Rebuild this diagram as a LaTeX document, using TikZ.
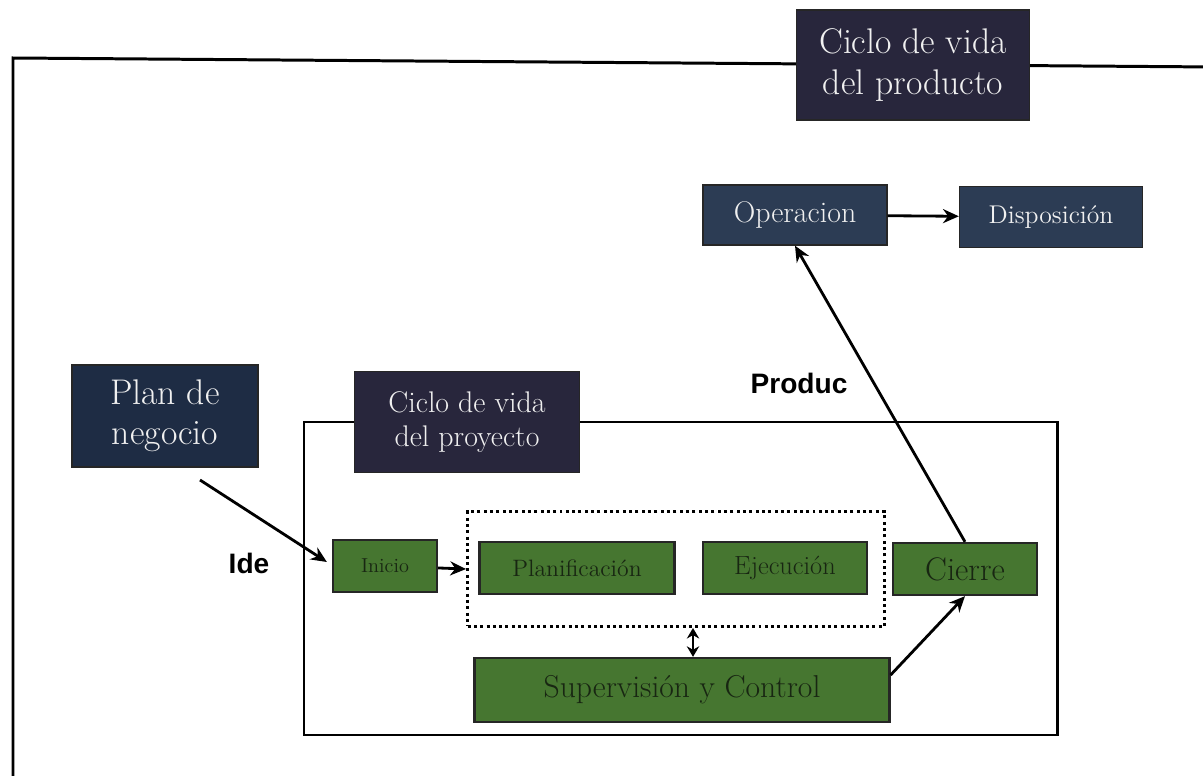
\documentclass[tikz,border=0pt]{standalone}
\usepackage{fontspec}
\newfontfamily\tagfont{Liberation Sans}
\usetikzlibrary{calc,positioning,arrows.meta}
\definecolor{titlenavy}{RGB}{40,38,60}
\definecolor{plannavy}{RGB}{30,44,68}
\definecolor{slate}{RGB}{44,60,84}
\definecolor{leaf}{RGB}{70,118,48}
\definecolor{paletext}{RGB}{240,240,240}
\definecolor{leaftext}{RGB}{24,38,18}

\begin{document}
\begin{tikzpicture}[x=0.02cm, y=-0.02cm, >={Stealth[length=9pt,width=8pt]},
  darkbox/.style={draw=black!85, line width=0.8pt, fill=titlenavy, text=paletext, align=center, inner sep=0pt},
  greenbox/.style={draw=black!85, line width=1.3pt, fill=leaf, text=leaftext, inner sep=0pt},
  tag/.style={font=\tagfont\bfseries\fontsize{16}{19}\selectfont},
  arr/.style={->, line width=1.6pt},
  frame/.style={line width=1.7pt}]
  \useasboundingbox (0,0) rectangle (1203,776);

  % Frames (drawn first, the title boxes sit on top)
  \draw[frame] (13,776) -- (13,58) -- (1215,67);
  \draw[frame] (304,422) rectangle (1057,735);

  % Product life cycle
  \node[darkbox, minimum width=4.66cm, minimum height=2.2cm,
        font=\fontsize{20.3}{23}\selectfont] (prod) at (913,65) {Ciclo de vida\\del producto};
  \node[darkbox, fill=slate, minimum width=3.68cm, minimum height=1.2cm,
        font=\fontsize{17}{20}\selectfont] (oper) at (795,215) {Operacion};
  \node[darkbox, fill=slate, minimum width=3.66cm, minimum height=1.22cm,
        font=\fontsize{14.6}{17}\selectfont] (disp) at (1051,217) {Disposición};

  % Business plan and project title
  \node[darkbox, fill=plannavy, minimum width=3.72cm, minimum height=2.04cm,
        font=\fontsize{20.3}{23}\selectfont] (plan) at (165,416) {Plan de\\negocio};
  \node[darkbox, minimum width=4.5cm, minimum height=2.02cm,
        font=\fontsize{17}{19}\selectfont] (proj) at (467,422) {Ciclo de vida\\del proyecto};

  % Labels
  \node[tag] (produc) at (799,383) {Produc};
  \node[tag] (ide) at (249,563) {Ide};

  % Project phases
  \node[greenbox, minimum width=2.08cm, minimum height=1.04cm,
        font=\fontsize{11.5}{13}\selectfont] (inicio) at (385,566) {Inicio};
  \node[greenbox, minimum width=3.9cm, minimum height=1.04cm,
        font=\fontsize{13.5}{16}\selectfont] (plani) at (577,568) {Planificación};
  \node[greenbox, minimum width=3.28cm, minimum height=1.04cm,
        font=\fontsize{15}{17}\selectfont] (ejec) at (785,568) {Ejecución};
  \node[greenbox, minimum width=2.88cm, minimum height=1.04cm,
        font=\fontsize{18.6}{21}\selectfont] (cierre) at (965,569) {Cierre};
  \node[greenbox, minimum width=8.3cm, minimum height=1.28cm,
        font=\fontsize{18}{21}\selectfont] (superv) at (682,690) {Supervisión y Control};
  \node[draw, line width=1.7pt, dash pattern=on 1.7pt off 1.9pt,
        minimum width=8.34cm, minimum height=2.3cm] (dots) at (676,569) {};

  % Arrows
  \coordinate (ideS) at (200,480);
  \draw[arr] (ideS) -- ([xshift=-0.1cm,yshift=0.08cm]inicio.west);
  \draw[arr] (inicio) -- (dots.west);
  \draw[{Stealth[length=6pt,width=7pt]}-{Stealth[length=6pt,width=7pt]}, line width=1.6pt]
    ([xshift=0.22cm]superv.north) -- ([xshift=0.22cm]superv.north |- dots.south);
  \draw[arr] ([yshift=0.3cm]superv.east) -- (cierre.south);
  \draw[arr] (cierre.north) -- (oper.south);
  \draw[arr] (oper) -- (disp);
\end{tikzpicture}
\end{document}
